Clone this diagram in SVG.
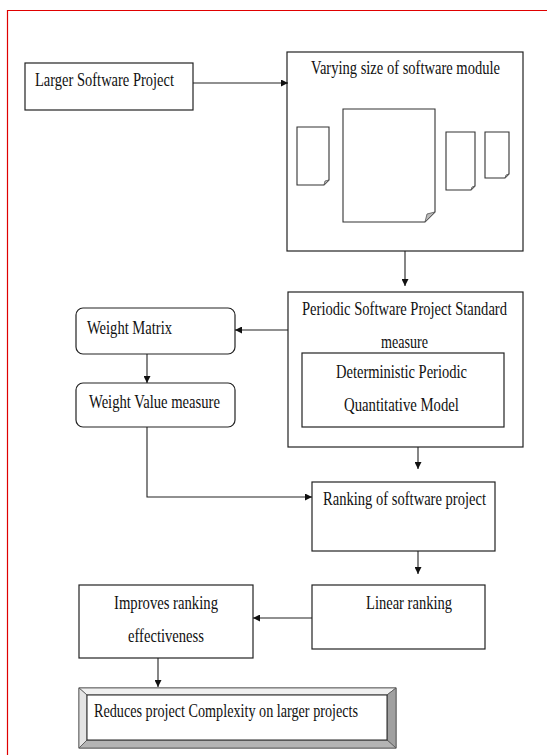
<svg xmlns="http://www.w3.org/2000/svg" width="547" height="755" viewBox="0 0 547 755">
<style>
.t{font-family:"Liberation Serif","Times New Roman",serif;font-size:19px;fill:#111}
.b{fill:#fff;stroke:#222;stroke-width:1.2}
.c{fill:none;stroke:#222;stroke-width:1.1}
.doc{fill:#fff;stroke:#333;stroke-width:1.1}
.fold{fill:#bbb;stroke:#555;stroke-width:0.8}
</style>
<defs>
<marker id="ah" viewBox="0 0 10 10" refX="10" refY="5" markerWidth="7" markerHeight="7" markerUnits="userSpaceOnUse" orient="auto">
<path d="M0,0 L10,5 L0,10 Z" fill="#111"/>
</marker>
</defs>
<rect width="547" height="755" fill="#fff"/>
<path d="M7.5,755 V10.5 H547" fill="none" stroke="#e00000" stroke-width="1.2"/>

<g id="larger">
<rect class="b" x="25" y="63" width="168" height="47"/>
<text class="t" transform="translate(35,86) scale(0.78,1)" textLength="178.2" lengthAdjust="spacingAndGlyphs">Larger Software Project</text>
</g>

<g id="varying">
<rect class="b" x="287" y="52" width="236" height="199"/>
<text class="t" transform="translate(311,74) scale(0.78,1)" textLength="242.3" lengthAdjust="spacingAndGlyphs">Varying size of software module</text>
<path class="doc" d="M297,127 H329 V180 L324,185 H297 Z"/>
<path class="fold" d="M324,185 L329,180 L325,181 Z"/>
<path class="doc" d="M343,109 H435 V212 L425,222 H343 Z"/>
<path class="fold" d="M425,222 L435,212 L427,214 Z"/>
<path class="doc" d="M446,132 H475 V186 L471,190 H446 Z"/>
<path class="fold" d="M471,190 L475,186 L472,187 Z"/>
<path class="doc" d="M485,132 H509 V174 L505,178 H485 Z"/>
<path class="fold" d="M505,178 L509,174 L506,175 Z"/>
</g>

<g id="periodic">
<rect class="b" x="288" y="292" width="235" height="155"/>
<text class="t" transform="translate(302,315) scale(0.78,1)" textLength="262.8" lengthAdjust="spacingAndGlyphs">Periodic Software Project Standard</text>
<text class="t" transform="translate(381,348) scale(0.78,1)" textLength="60.3" lengthAdjust="spacingAndGlyphs">measure</text>
</g>

<g id="deterministic">
<rect class="b" x="302" y="353" width="202" height="74"/>
<text class="t" transform="translate(336,378) scale(0.78,1)" textLength="167.9" lengthAdjust="spacingAndGlyphs">Deterministic Periodic</text>
<text class="t" transform="translate(344,411) scale(0.78,1)" textLength="147.4" lengthAdjust="spacingAndGlyphs">Quantitative Model</text>
</g>

<g id="weight-matrix">
<rect class="b" x="76" y="308" width="159" height="46" rx="7"/>
<text class="t" transform="translate(87,334) scale(0.78,1)" textLength="109" lengthAdjust="spacingAndGlyphs">Weight Matrix</text>
</g>

<g id="weight-value">
<rect class="b" x="76" y="383" width="159" height="44" rx="7"/>
<text class="t" transform="translate(89,408) scale(0.78,1)" textLength="167.9" lengthAdjust="spacingAndGlyphs">Weight Value measure</text>
</g>

<g id="ranking">
<rect class="b" x="312" y="482" width="183" height="69"/>
<text class="t" transform="translate(323,505) scale(0.78,1)" textLength="209" lengthAdjust="spacingAndGlyphs">Ranking of software project</text>
</g>

<g id="linear">
<rect class="b" x="312" y="585" width="173" height="64"/>
<text class="t" transform="translate(366,609) scale(0.78,1)" textLength="110.3" lengthAdjust="spacingAndGlyphs">Linear ranking</text>
</g>

<g id="improves">
<rect class="b" x="79" y="585" width="174" height="73"/>
<text class="t" transform="translate(114,609) scale(0.78,1)" textLength="133.3" lengthAdjust="spacingAndGlyphs">Improves ranking</text>
<text class="t" transform="translate(128,642) scale(0.78,1)" textLength="97.4" lengthAdjust="spacingAndGlyphs">effectiveness</text>
</g>

<g id="reduces">
<rect x="79" y="688" width="317" height="60" fill="#fff" stroke="#555" stroke-width="1"/>
<path d="M79,688 H396 L387,695 H87 Z" fill="#f0f0f0" stroke="#555" stroke-width="0.8"/>
<path d="M79,688 L87,695 V740 L79,748 Z" fill="#e4e4e4" stroke="#555" stroke-width="0.8"/>
<path d="M396,688 V748 L387,740 V695 Z" fill="#a0a0a0" stroke="#555" stroke-width="0.8"/>
<path d="M79,748 H396 L387,740 H87 Z" fill="#b4b4b4" stroke="#555" stroke-width="0.8"/>
<rect x="87" y="695" width="300" height="45" fill="#fff" stroke="#222" stroke-width="1"/>
<text class="t" transform="translate(94,717) scale(0.78,1)" textLength="338.5" lengthAdjust="spacingAndGlyphs">Reduces project Complexity on larger projects</text>
</g>

<g id="connectors">
<line class="c" x1="193" y1="83" x2="288" y2="83" marker-end="url(#ah)"/>
<line class="c" x1="405" y1="251" x2="405" y2="286" marker-end="url(#ah)"/>
<line class="c" x1="288" y1="330" x2="235" y2="330" marker-end="url(#ah)"/>
<line class="c" x1="147" y1="354" x2="147" y2="383" marker-end="url(#ah)"/>
<polyline class="c" points="147,427 147,497 312,497" marker-end="url(#ah)"/>
<line class="c" x1="418" y1="447" x2="418" y2="469" marker-end="url(#ah)"/>
<line class="c" x1="418" y1="551" x2="418" y2="574" marker-end="url(#ah)"/>
<line class="c" x1="312" y1="618" x2="253" y2="618" marker-end="url(#ah)"/>
<line class="c" x1="158" y1="658" x2="158" y2="687" marker-end="url(#ah)"/>
</g>
</svg>
